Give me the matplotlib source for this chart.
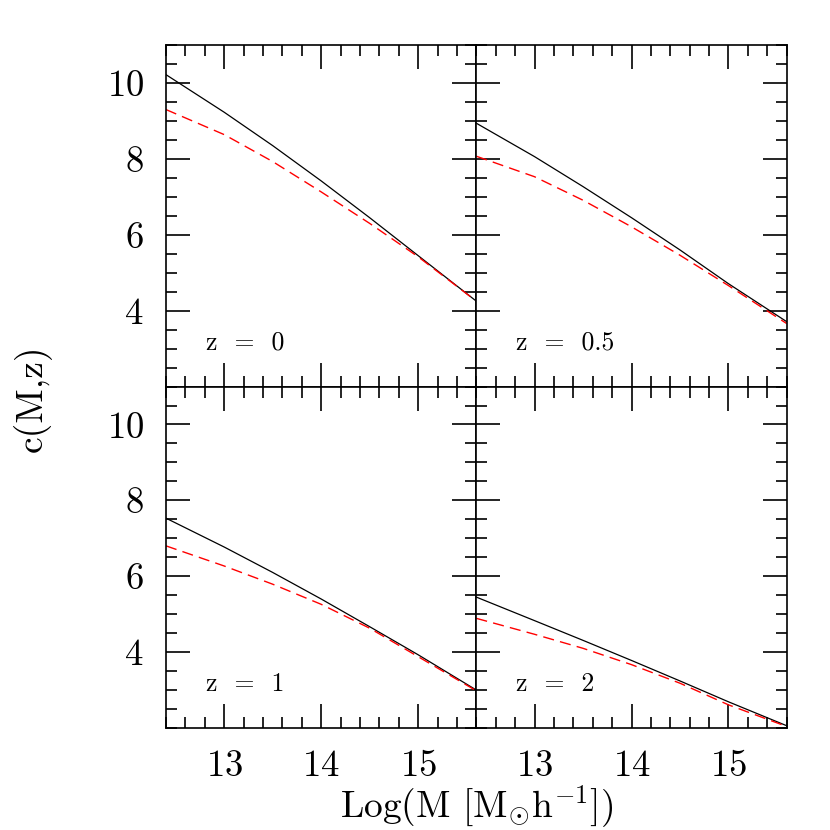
import matplotlib
matplotlib.use("Agg")
import matplotlib.pyplot as plt
from matplotlib.ticker import MultipleLocator, FixedLocator

plt.rcParams["font.family"] = "serif"
plt.rcParams["font.serif"] = ["cmr10", "DejaVu Serif"]
plt.rcParams["mathtext.fontset"] = "cm"
plt.rcParams["axes.formatter.use_mathtext"] = True

# log10 halo mass grid
log_mass = [12.4, 13.0, 13.5, 14.0, 14.5, 15.0, 15.6]

# concentration, black solid curves
c_solid_z0 = [10.22, 9.23, 8.35, 7.42, 6.45, 5.45, 4.25]
c_solid_z05 = [8.94, 8.06, 7.27, 6.45, 5.60, 4.71, 3.71]
c_solid_z1 = [7.53, 6.77, 6.10, 5.40, 4.67, 3.93, 3.00]
c_solid_z2 = [5.45, 4.83, 4.31, 3.78, 3.24, 2.69, 2.06]

# concentration, red dashed curves
c_dash_z0 = [9.30, 8.64, 7.93, 7.13, 6.30, 5.42, 4.25]
c_dash_z05 = [8.07, 7.53, 6.91, 6.21, 5.46, 4.66, 3.66]
c_dash_z1 = [6.80, 6.27, 5.79, 5.26, 4.63, 3.88, 2.98]
c_dash_z2 = [4.89, 4.47, 4.10, 3.67, 3.18, 2.61, 2.04]

panel_labels = ["z  =  0", "z  =  0.5", "z  =  1", "z  =  2"]
solid = [c_solid_z0, c_solid_z05, c_solid_z1, c_solid_z2]
dashed = [c_dash_z0, c_dash_z05, c_dash_z1, c_dash_z2]

fig = plt.figure(figsize=(8.3, 8.3), dpi=100)

left = 0.2
w = 0.3739
bottom = 0.1229
h = 0.4114

for i in range(4):
    row = i // 2
    col = i % 2
    ax = fig.add_axes([left + col * w, bottom + (1 - row) * h, w, h])

    ax.plot(log_mass, solid[i], color="black", lw=0.9)
    ax.plot(log_mass, dashed[i], color="red", lw=1.0, dashes=(8, 4.5))

    ax.set_xlim(12.4, 15.6)
    ax.set_ylim(2, 11)
    ax.xaxis.set_major_locator(MultipleLocator(1))
    ax.xaxis.set_minor_locator(MultipleLocator(0.2))
    ax.yaxis.set_major_locator(FixedLocator([4, 6, 8, 10]))
    ax.yaxis.set_minor_locator(MultipleLocator(0.5))

    ax.tick_params(which="both", direction="in", top=True, right=True,
                   width=1.2, labelsize=26.5, pad=16)
    ax.tick_params(which="major", length=17)
    ax.tick_params(which="minor", length=8)
    for s in ax.spines.values():
        s.set_linewidth(1.2)

    if row == 0:
        ax.tick_params(labelbottom=False)
    if col == 1:
        ax.tick_params(labelleft=False)

    ax.text(0.129, 0.108, panel_labels[i], transform=ax.transAxes,
            fontsize=18.5, va="baseline", ha="left")

fig.text(0.5747, 0.0145, r"Log(M [M$_{\odot}$h$^{-1}$])", fontsize=27,
         ha="center", va="baseline")
fig.text(0.0386, 0.52, "c(M,z)", fontsize=27, rotation=90,
         ha="center", va="center")

plt.savefig("out.png", dpi=100)
